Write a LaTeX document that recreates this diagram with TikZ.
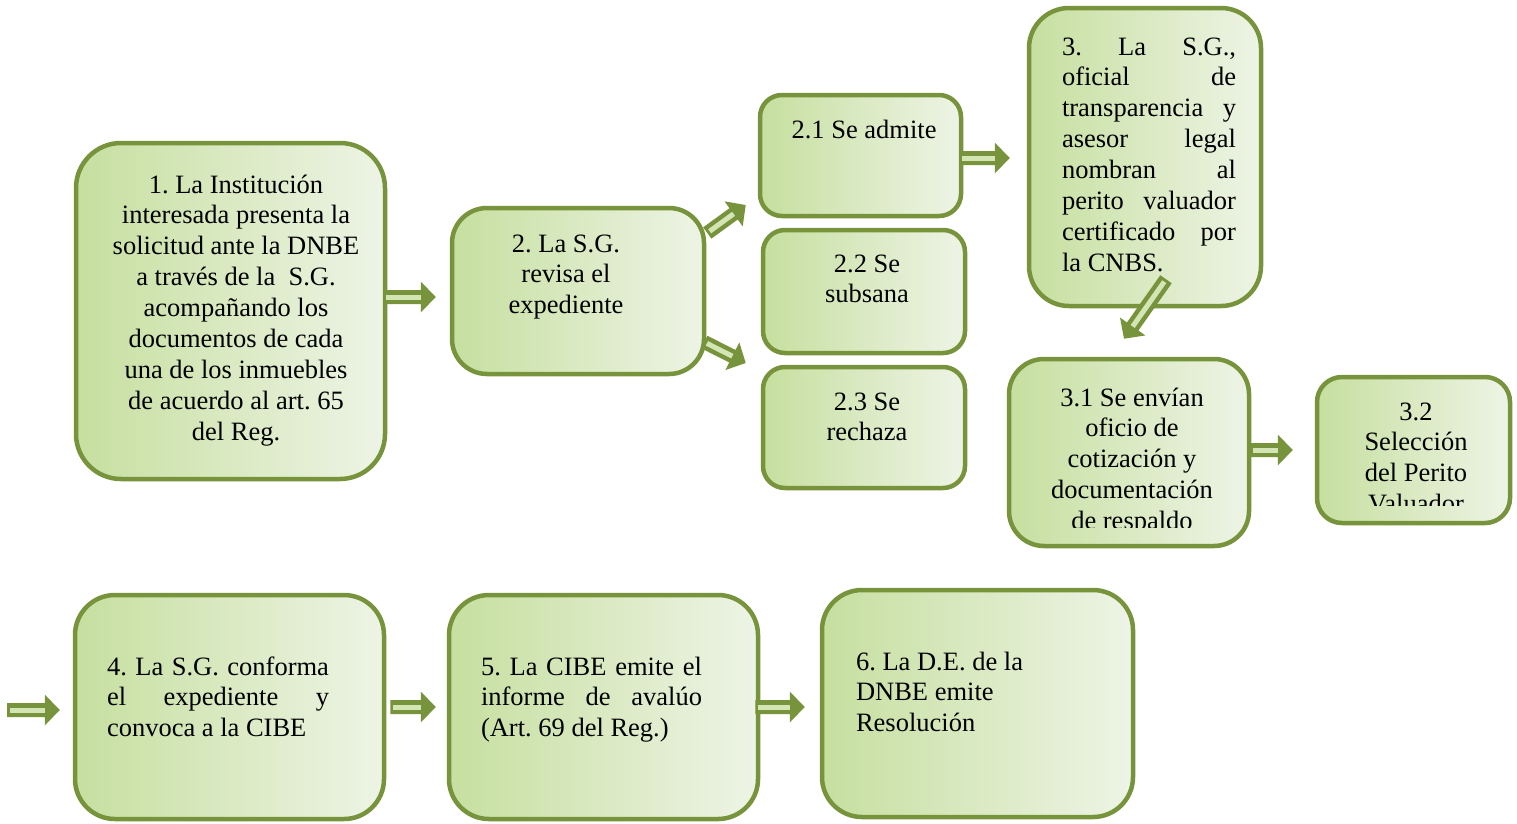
\documentclass[tikz,border=0pt]{standalone}
\usepackage{fontspec}
\setmainfont{Liberation Serif}
\frenchspacing
\usetikzlibrary{calc}
\definecolor{olivebd}{HTML}{77933C}
\definecolor{gleft}{HTML}{C6DF9F}
\definecolor{gright}{HTML}{EEF4E6}
\definecolor{stripe}{HTML}{D4E5B5}
\tikzset{
  box/.style={draw=olivebd, line width=4.5pt, left color=gleft, right color=gright, inner sep=0pt, rectangle},
  txt/.style={inner sep=0pt, outer sep=0pt, font=\fontsize{26.5}{30.9}\selectfont\frenchspacing, text=black},
}
\newcommand{\barrow}[2]{%
  \fill[olivebd] let \p1=(#1), \p2=(#2), \n1={atan2(\y2-\y1,\x2-\x1)}, \n2={veclen(\x2-\x1,\y2-\y1)} in
    [shift={(\p1)}, rotate=\n1] (0pt,-7pt) -- ({(\n2-15)*1pt},-7pt) -- ({(\n2-15)*1pt},-15.5pt)
    -- ({\n2*1pt},0pt) -- ({(\n2-15)*1pt},15.5pt) -- ({(\n2-15)*1pt},7pt) -- (0pt,7pt) -- cycle;
  \fill[stripe] let \p1=(#1), \p2=(#2), \n1={atan2(\y2-\y1,\x2-\x1)}, \n2={veclen(\x2-\x1,\y2-\y1)} in
    [shift={(\p1)}, rotate=\n1] (3pt,-2.5pt) rectangle ({(\n2-15)*1pt},2.5pt);
}
\begin{document}
\begin{tikzpicture}[x=1pt,y=-1pt]
\useasboundingbox (0,0) rectangle (1517,823);
% boxes
\node[box, rounded corners=45pt, minimum width=309pt, minimum height=336pt] (b1) at (230.5,311) {};
\node[box, rounded corners=35pt, minimum width=252pt, minimum height=166pt] (b2) at (578,291) {};
\node[box, rounded corners=22pt, minimum width=201pt, minimum height=121pt] (b21) at (860.5,155.5) {};
\node[box, rounded corners=22pt, minimum width=202pt, minimum height=123pt] (b22) at (864,291.5) {};
\node[box, rounded corners=22pt, minimum width=202pt, minimum height=121pt] (b23) at (864,427.5) {};
\node[box, rounded corners=40pt, minimum width=232pt, minimum height=298pt] (b3) at (1145,157) {};
\node[box, rounded corners=35pt, minimum width=240pt, minimum height=187pt] (b31) at (1129,452.5) {};
\node[box, rounded corners=25pt, minimum width=193pt, minimum height=146pt] (b32) at (1413.5,450) {};
\node[box, rounded corners=40pt, minimum width=309pt, minimum height=224pt] (b4) at (229.5,707) {};
\node[box, rounded corners=40pt, minimum width=309pt, minimum height=224pt] (b5) at (603.5,707) {};
\node[box, rounded corners=40pt, minimum width=311pt, minimum height=227pt] (b6) at (977.5,703.5) {};
% texts
\node[txt, anchor=north, align=center] (t1) at (236,171.4) {\strut 1. La Institución\\interesada presenta la\\solicitud ante la DNBE\\a través de la~ S.G.\\acompañando los\\documentos de cada\\una de los inmuebles\\de acuerdo al art. 65\\del Reg.};
\node[txt, anchor=north, align=center] (t2) at (566,230.4) {\strut 2. La S.G.\\revisa el\\expediente};
\node[txt, anchor=north, align=center] (t21) at (864,116.4) {\strut 2.1 Se admite};
\node[txt, anchor=north, align=center] (t22) at (867,250.4) {\strut 2.2 Se\\subsana};
\node[txt, anchor=north, align=center] (t23) at (867,388.4) {\strut 2.3 Se\\rechaza};
\node[txt, anchor=north west, align=left] (t3) at (1062,33.4) {\strut\makebox[174pt][s]{3. La S.G.,}\\\makebox[174pt][s]{oficial de}\\\makebox[174pt][s]{transparencia y}\\\makebox[174pt][s]{asesor legal}\\\makebox[174pt][s]{nombran al}\\\makebox[174pt][s]{perito valuador}\\\makebox[174pt][s]{certificado por}\\la CNBS.};
\begin{scope}
  \clip (1000,350) rectangle (1260,527);
  \node[txt, anchor=north, align=center] (t31) at (1132,384.4) {\strut 3.1 Se envían\\oficio de\\cotización y\\documentación\\de respaldo};
\end{scope}
\begin{scope}
  \clip (1300,360) rectangle (1517,505);
  \node[txt, anchor=north, align=center] (t32) at (1416,398.4) {\strut 3.2\\Selección\\del Perito\\Valuador};
\end{scope}
\node[txt, anchor=north west, align=left] (t4) at (107,653.4) {\strut\makebox[222pt][s]{4. La S.G. conforma}\\\makebox[222pt][s]{el expediente y}\\convoca a la CIBE};
\node[txt, anchor=north west, align=left] (t5) at (481,653.4) {\strut\makebox[221pt][s]{5. La CIBE emite el}\\\makebox[221pt][s]{informe de avalúo}\\(Art. 69 del Reg.)};
\node[txt, anchor=north west, align=left] (t6) at (856,648.4) {\strut 6. La D.E. de la\\DNBE emite\\Resolución};
% arrow end points
\coordinate (a1s) at ($(b1.east)+(-4,-14)$);
\coordinate (a1t) at ($(b2.west)+(-14,6)$);
\coordinate (a2s) at ($(b2.east)+(1,-58)$);
\coordinate (a2t) at ($(b21.west)+(-12,49.5)$);
\coordinate (a3s) at ($(b2.east)+(-2,51)$);
\coordinate (a3t) at ($(b23.west)+(-15,-64.5)$);
\coordinate (a4s) at ($(b21.east)+(-4,2.5)$);
\coordinate (a4t) at ($(b3.west)+(-17,1)$);
\coordinate (a5s) at ($(b3.south)+(21,-29)$);
\coordinate (a5t) at ($(b31.north)+(-5,-18)$);
\coordinate (a6s) at ($(b31.east)+(-1,-2.5)$);
\coordinate (a6t) at ($(b32.west)+(-22,0)$);
\coordinate (a7s) at (7,710);
\coordinate (a7t) at ($(b4.west)+(-13,3)$);
\coordinate (a8s) at ($(b4.east)+(4,0)$);
\coordinate (a8t) at ($(b5.west)+(-11,0)$);
\coordinate (a9s) at ($(b5.east)+(-5,0)$);
\coordinate (a9t) at ($(b6.west)+(-15,3.5)$);
\barrow{a1s}{a1t}
\barrow{a2s}{a2t}
\barrow{a3s}{a3t}
\barrow{a4s}{a4t}
\barrow{a5s}{a5t}
\barrow{a6s}{a6t}
\barrow{a7s}{a7t}
\barrow{a8s}{a8t}
\barrow{a9s}{a9t}
\end{tikzpicture}
\end{document}
